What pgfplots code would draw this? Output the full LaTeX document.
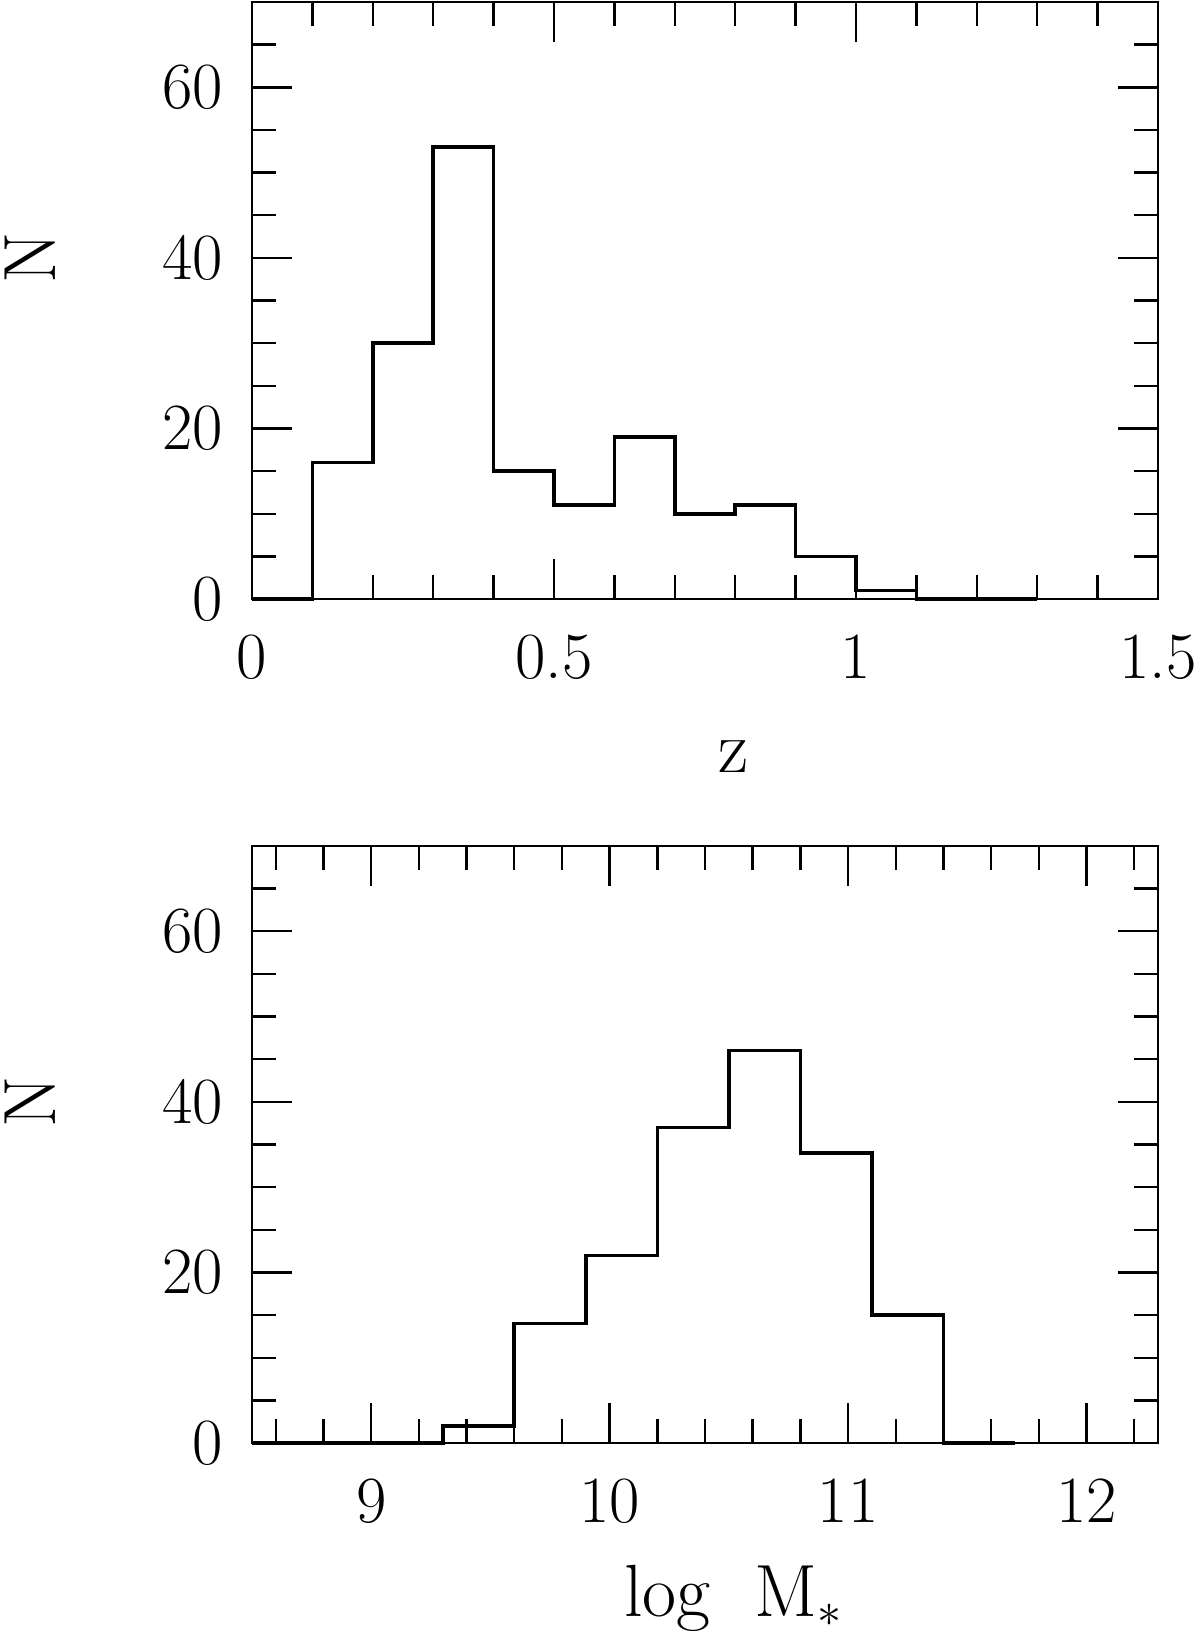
\documentclass[border=0pt]{standalone}
\usepackage{fontspec}
\usepackage{pgfplots}
\pgfplotsset{compat=1.18}

\pgfplotsset{
  histpanel/.style={
    scale only axis,
    width=226.5pt, height=149.25pt,
    ymin=0, ymax=70,
    ytick={0,20,40,60},
    minor ytick={5,10,15,25,30,35,45,50,55,65},
    tick align=inside,
    major tick length=10pt,
    minor tick length=6pt,
    tick style={black, line width=0.6pt},
    axis line style={line width=0.6pt},
    clip=false,
    font=\fontsize{18.5}{21}\selectfont,
    /pgf/number format/assume math mode=true,
    ticklabel style={font=\fontsize{16.5}{19}\selectfont},
    xticklabel style={yshift=-5.5pt},
    yticklabel style={xshift=-3.75pt},
    ylabel={N},
    ylabel style={at={(axis description cs:-0.245,0.571)}, anchor=center},
    xlabel style={at={(axis description cs:0.532,-0.29)}, anchor=base},
  },
  histline/.style={const plot mark left, black, line width=0.9pt, mark=none},
}

\begin{document}
\begin{tikzpicture}
\useasboundingbox (-63pt,-258pt) rectangle (237pt,149.75pt);

% redshift distribution
\begin{axis}[histpanel, name=top,
    xmin=0, xmax=1.5,
    xtick={0,0.5,1,1.5},
    minor xtick={0.1,0.2,0.3,0.4,0.6,0.7,0.8,0.9,1.1,1.2,1.3,1.4},
    xlabel={z}]
\addplot[histline] coordinates {
  (0,0) (0.1,16) (0.2,30) (0.3,53) (0.4,15) (0.5,11) (0.6,19)
  (0.7,10) (0.8,11) (0.9,5) (1.0,1) (1.1,0) (1.3,0)
};
\end{axis}

% stellar mass distribution
\begin{axis}[histpanel,
    at={(top.south west)}, anchor=north west, yshift=-61.75pt,
    xmin=8.5, xmax=12.3,
    xtick={9,10,11,12},
    minor xtick={8.6,8.8,9.2,9.4,9.6,9.8,10.2,10.4,10.6,10.8,11.2,11.4,11.6,11.8,12.2},
    xlabel={log\hspace{0.6em}M$_*$}]
\addplot[histline] coordinates {
  (8.5,0) (9.3,2) (9.6,14) (9.9,22) (10.2,37) (10.5,46)
  (10.8,34) (11.1,15) (11.4,0) (11.7,0)
};
\end{axis}
\end{tikzpicture}
\end{document}
